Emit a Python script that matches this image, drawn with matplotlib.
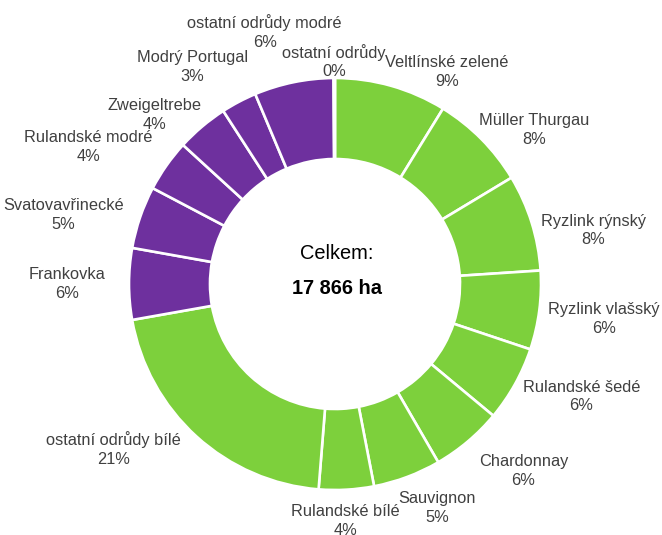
import matplotlib
matplotlib.use('Agg')
import matplotlib.pyplot as plt
import numpy as np

plt.rcParams['font.family'] = ['Liberation Sans', 'DejaVu Sans']

# plocha vinic podle odrud (ha), poradi po smeru hodin od 12 h
odrudy = ['Veltlínské zelené', 'Müller Thurgau', 'Ryzlink rýnský', 'Ryzlink vlašský',
          'Rulandské šedé', 'Chardonnay', 'Sauvignon', 'Rulandské bílé',
          'ostatní odrůdy bílé', 'Frankovka', 'Svatovavřinecké', 'Rulandské modré',
          'Zweigeltrebe', 'Modrý Portugal', 'ostatní odrůdy modré', 'ostatní odrůdy']
plochy_ha = [1570, 1355, 1355, 1105, 1055, 1000, 950, 770,
             3741, 1000, 875, 730, 730, 500, 1110, 20]
skupina = ['bílé'] * 9 + ['modré'] * 6 + ['ostatní']

barvy = {'bílé': '#7dd03c', 'modré': '#6e309e', 'ostatní': '#6e309e'}

# posun popisku (stupne po smeru hodin) a vzdalenost od stredu
posun = [12, 7, 5.7, 0, -4.6, -5, -4, 0.7, 11, 0, -4.6, -6, -6.6, -5.5, -4, 0]
vzdal = [1.165, 1.22, 1.28, 1.315, 1.315, 1.29, 1.195, 1.15,
         1.34, 1.30, 1.36, 1.37, 1.20, 1.26, 1.27, 1.08]

R = 206.0  # polomer v pixelech
cx, cy = 335, 284
W, H = 662, 535

fig = plt.figure(figsize=(W / 100, H / 100), dpi=100)
ax = fig.add_axes([0, 0, 1, 1])

wedges, _ = ax.pie(plochy_ha, colors=[barvy[s] for s in skupina],
                   startangle=90, counterclock=False, radius=1.0,
                   wedgeprops=dict(width=1 - 125 / R, edgecolor='white', linewidth=1.9))

total = sum(plochy_ha)
for w, name, val, d, r in zip(wedges, odrudy, plochy_ha, posun, vzdal):
    mid = np.deg2rad((w.theta1 + w.theta2) / 2 - d)
    pct = int(round(val / total * 100))
    ax.text(r * np.cos(mid), r * np.sin(mid), f'{name}\n{pct}%',
            ha='center', va='center', fontsize=11.8, color='#404040',
            linespacing=1.32)

ax.text(0.01, 0.15, 'Celkem:', ha='center', va='center', fontsize=14.4, color='black')
ax.text(0.01, -0.02, f'{total:,} ha'.replace(',', ' '), ha='center', va='center',
        fontsize=14.4, fontweight='bold', color='black')

ax.set_aspect('auto')
ax.set_xlim(-cx / R, (W - cx) / R)
ax.set_ylim((cy - H) / R, cy / R)
ax.axis('off')

fig.savefig('out.png', dpi=100)
